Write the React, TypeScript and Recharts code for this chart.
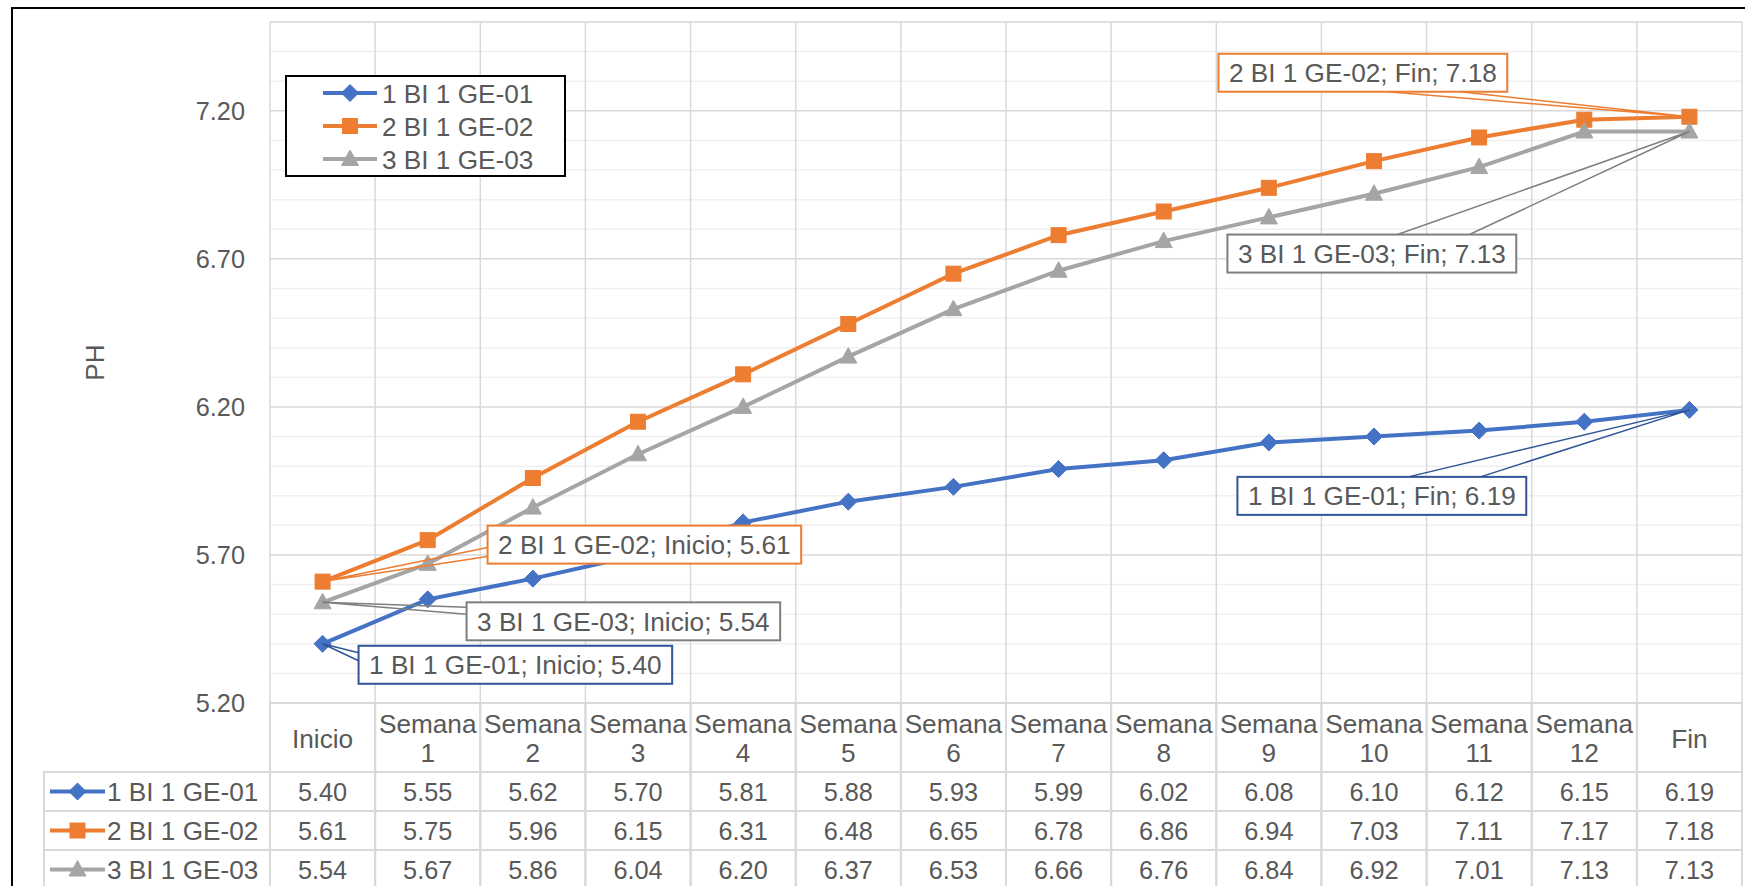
import React from 'react';
import { LineChart, Line, XAxis, YAxis, CartesianGrid, Legend, LabelList, Label } from 'recharts';

// ---------- data ----------
const CATEGORIES = ['Inicio', 'Semana 1', 'Semana 2', 'Semana 3', 'Semana 4', 'Semana 5', 'Semana 6', 'Semana 7', 'Semana 8', 'Semana 9', 'Semana 10', 'Semana 11', 'Semana 12', 'Fin'];
const SERIES_NAMES = ['1 BI 1 GE-01', '2 BI 1 GE-02', '3 BI 1 GE-03'];
const GE01 = [5.40, 5.55, 5.62, 5.70, 5.81, 5.88, 5.93, 5.99, 6.02, 6.08, 6.10, 6.12, 6.15, 6.19];
const GE02 = [5.61, 5.75, 5.96, 6.15, 6.31, 6.48, 6.65, 6.78, 6.86, 6.94, 7.03, 7.11, 7.17, 7.18];
const GE03 = [5.54, 5.67, 5.86, 6.04, 6.20, 6.37, 6.53, 6.66, 6.76, 6.84, 6.92, 7.01, 7.13, 7.13];
const Y_TICKS = [5.2, 5.7, 6.2, 6.7, 7.2];
const Y_MINOR = [5.3, 5.4, 5.5, 5.6, 5.8, 5.9, 6.0, 6.1, 6.3, 6.4, 6.5, 6.6, 6.8, 6.9, 7.0, 7.1, 7.3, 7.4, 7.5];
const Y_DOMAIN: [number, number] = [5.2, 7.5];
const Y_TITLE = 'PH';

const SERIES = [GE01, GE02, GE03];
const KEYS = ['s1', 's2', 's3'];
const data = CATEGORIES.map((cat, i) => ({ cat, s1: GE01[i], s2: GE02[i], s3: GE03[i] }));

// ---------- style / layout ----------
const FONT = '"Liberation Sans", Arial, sans-serif';
const TEXT = '#595959';
const GRID = '#D9D9D9';
const MINOR = '#EFEFEF';
const COLORS = ['#4472C4', '#ED7D31', '#A5A5A5'];
const LABEL_BORDER = ['#2F5597', '#ED7D31', '#7F7F7F'];
const MARKERS = ['diamond', 'square', 'triangle'];

const W = 1745;
const H = 889;
const MARGIN = { top: 22, right: 3, bottom: 0, left: 44 };
const Y_AXIS_W = 226;
const HEADER_H = 69;
const ROW_H = 39;
const PLOT_LEFT = MARGIN.left + Y_AXIS_W;
const PLOT_W = W - MARGIN.right - PLOT_LEFT;
const BAND = PLOT_W / CATEGORIES.length;
const FS_VAL = 25.3;
const FS_TXT = 26.2;
const BOX_H = 38;

// callout placement relative to the data point (box top-left offset, leader anchors relative to box)
const CALLOUTS: Record<number, Record<number, { dx: number; dy: number; anchors: [number, number][] }>> = {
  0: {
    0: { dx: 36, dy: 2, anchors: [[0, 7], [0, 15]] },
    13: { dx: -452, dy: 67, anchors: [[171, 0], [243, 0]] },
  },
  1: {
    0: { dx: 165, dy: -56, anchors: [[0, 22], [0, 31]] },
    13: { dx: -471, dy: -63, anchors: [[169, BOX_H], [242, BOX_H]] },
  },
  2: {
    0: { dx: 144, dy: 0, anchors: [[0, 5], [0, 12]] },
    13: { dx: -462, dy: 103, anchors: [[170, 0], [242, 0]] },
  },
};

let ctx: CanvasRenderingContext2D | null = null;
function measure(t: string, size: number) {
  if (!ctx) ctx = document.createElement('canvas').getContext('2d');
  if (!ctx) return t.length * size * 0.5;
  ctx.font = `${size}px "Liberation Sans", Arial, sans-serif`;
  return ctx.measureText(t).width;
}

function Marker({ kind, cx, cy, color }: { kind: string; cx: number; cy: number; color: string }) {
  if (kind === 'diamond') {
    const r = 8.5;
    return <polygon points={`${cx},${cy - r} ${cx + r},${cy} ${cx},${cy + r} ${cx - r},${cy}`} fill={color} stroke={color} strokeWidth={1} />;
  }
  if (kind === 'square') {
    const r = 7.5;
    return <rect x={cx - r} y={cy - r} width={2 * r} height={2 * r} fill={color} stroke={color} strokeWidth={1} />;
  }
  return <polygon points={`${cx},${cy - 9} ${cx + 8.5},${cy + 6.5} ${cx - 8.5},${cy + 6.5}`} fill={color} stroke={color} strokeWidth={1} />;
}

const makeDot = (s: number) => (props: any) => {
  const { cx, cy, index } = props;
  if (cx == null || cy == null) return <g key={`d-${s}-${index}`} />;
  return <Marker key={`d-${s}-${index}`} kind={MARKERS[s]} cx={cx} cy={cy} color={COLORS[s]} />;
};

const makeCallout = (s: number) => (props: any) => {
  const index = props.index;
  const cfg = CALLOUTS[s][index];
  if (!cfg) return null;
  const px = props.x ?? props.viewBox?.x;
  const py = props.y ?? props.viewBox?.y;
  if (px == null || py == null) return null;
  const text = `${SERIES_NAMES[s]}; ${CATEGORIES[index]}; ${SERIES[s][index].toFixed(2)}`;
  const w = measure(text, FS_TXT) + 21;
  const bx = px + cfg.dx;
  const by = py + cfg.dy;
  const a = cfg.anchors.map(([ax, ay]) => [bx + ax, by + ay]);
  const c = LABEL_BORDER[s];
  return (
    <g>
      <polyline points={`${a[0][0]},${a[0][1]} ${px},${py} ${a[1][0]},${a[1][1]}`} fill="none" stroke={c} strokeWidth={1.5} />
      <rect x={bx} y={by} width={w} height={BOX_H} fill="#fff" stroke={c} strokeWidth={2} />
      <text x={bx + 10.5} y={by + 28.5} fontSize={FS_TXT} fill={TEXT} fontFamily={FONT}>{text}</text>
    </g>
  );
};

const HeaderTick = (props: any) => {
  const { x, y, payload } = props;
  const parts = String(payload.value).split(' ');
  return (
    <g>
      <rect x={x - BAND / 2} y={y} width={BAND} height={HEADER_H} fill="none" stroke={GRID} strokeWidth={2} />
      {parts.length > 1 ? (
        <text textAnchor="middle" fontSize={FS_TXT} fill={TEXT} fontFamily={FONT}>
          <tspan x={x} y={y + 30}>{parts[0]}</tspan>
          <tspan x={x} y={y + 59}>{parts[1]}</tspan>
        </text>
      ) : (
        <text x={x} y={y + 45} textAnchor="middle" fontSize={FS_TXT} fill={TEXT} fontFamily={FONT}>{parts[0]}</text>
      )}
    </g>
  );
};

const makeRowTick = (row: number) => (props: any) => {
  const { x, y, index } = props;
  const values = SERIES[row];
  const left = x - BAND / 2;
  return (
    <g>
      <rect x={left} y={y} width={BAND} height={ROW_H} fill="none" stroke={GRID} strokeWidth={2} />
      <text x={x} y={y + 29} textAnchor="middle" fontSize={FS_VAL} fill={TEXT} fontFamily={FONT}>{values[index].toFixed(2)}</text>
      {index === 0 && (
        <g>
          <rect x={MARGIN.left} y={y} width={left - MARGIN.left} height={ROW_H} fill="none" stroke={GRID} strokeWidth={2} />
          <line x1={MARGIN.left + 6} x2={MARGIN.left + 61} y1={y + ROW_H / 2} y2={y + ROW_H / 2} stroke={COLORS[row]} strokeWidth={4} />
          <Marker kind={MARKERS[row]} cx={MARGIN.left + 33.5} cy={y + ROW_H / 2} color={COLORS[row]} />
          <text x={MARGIN.left + 63} y={y + 29} fontSize={FS_TXT} fill={TEXT} fontFamily={FONT}>{SERIES_NAMES[row]}</text>
        </g>
      )}
    </g>
  );
};

const LegendBox = () => (
  <svg width={281} height={102} style={{ display: 'block' }}>
    <rect x={1} y={1} width={279} height={100} fill="#fff" stroke="#000" strokeWidth={2} />
    {SERIES_NAMES.map((n, i) => {
      const cy = 18 + i * 33;
      return (
        <g key={n}>
          <line x1={38} x2={92} y1={cy} y2={cy} stroke={COLORS[i]} strokeWidth={4} />
          <Marker kind={MARKERS[i]} cx={65} cy={cy} color={COLORS[i]} />
          <text x={97} y={cy + 9.5} fontSize={FS_TXT} fill={TEXT} fontFamily={FONT}>{n}</text>
        </g>
      );
    })}
  </svg>
);

const PHLabel = (props: any) => {
  const vb = props.viewBox || { x: MARGIN.left, y: MARGIN.top, width: Y_AXIS_W, height: 681 };
  const cx = vb.x + 51;
  const cy = vb.y + vb.height / 2;
  return (
    <text x={cx} y={cy} transform={`rotate(-90, ${cx}, ${cy})`} textAnchor="middle" dominantBaseline="central" fontSize={FS_TXT} fill={TEXT} fontFamily={FONT}>
      {Y_TITLE}
    </text>
  );
};

const vGen = ({ offset }: any) => {
  const left = offset?.left ?? PLOT_LEFT;
  const width = offset?.width ?? PLOT_W;
  const n = CATEGORIES.length;
  const out: number[] = [];
  for (let i = 0; i <= n; i++) out.push(left + (i * width) / n);
  return out;
};

export default function App() {
  const pad = { left: BAND / 2, right: BAND / 2 };
  return (
    <div style={{ position: 'absolute', left: 0, top: 0, width: 1745, height: 886, overflow: 'hidden', background: '#fff' }}>
      <LineChart width={W} height={H} data={data} margin={MARGIN} style={{ fontFamily: FONT }}>
        <CartesianGrid horizontalValues={Y_MINOR} vertical={false} stroke={MINOR} strokeWidth={1.5} />
        <CartesianGrid stroke={GRID} strokeWidth={1.5} verticalCoordinatesGenerator={vGen} />
        <XAxis xAxisId={0} dataKey="cat" height={HEADER_H} padding={pad} interval={0} tickSize={0} tickMargin={0} tickLine={false} axisLine={false} tick={HeaderTick} />
        <XAxis xAxisId={1} dataKey="cat" height={ROW_H} padding={pad} interval={0} tickSize={0} tickMargin={0} tickLine={false} axisLine={false} tick={makeRowTick(0)} />
        <XAxis xAxisId={2} dataKey="cat" height={ROW_H} padding={pad} interval={0} tickSize={0} tickMargin={0} tickLine={false} axisLine={false} tick={makeRowTick(1)} />
        <XAxis xAxisId={3} dataKey="cat" height={ROW_H} padding={pad} interval={0} tickSize={0} tickMargin={0} tickLine={false} axisLine={false} tick={makeRowTick(2)} />
        <YAxis
          domain={Y_DOMAIN}
          ticks={Y_TICKS}
          allowDataOverflow
          interval={0}
          width={Y_AXIS_W}
          tickSize={0}
          tickMargin={25}
          axisLine={false}
          tickLine={false}
          tick={{ fill: TEXT, fontSize: FS_VAL, fontFamily: FONT }}
          tickFormatter={(v: number) => v.toFixed(2)}
        >
          <Label content={PHLabel} />
        </YAxis>
        <Legend layout="horizontal" verticalAlign="middle" align="center" wrapperStyle={{ left: 285, top: 75, width: 281, height: 102 }} content={LegendBox} />
        {KEYS.map((k, s) => (
          <Line key={k} xAxisId={0} dataKey={k} name={SERIES_NAMES[s]} stroke={COLORS[s]} strokeWidth={4} dot={makeDot(s)} activeDot={false} isAnimationActive={false} />
        ))}
        {KEYS.map((k, s) => (
          <Line key={`lbl-${k}`} xAxisId={s + 1} dataKey={k} stroke="none" dot={false} activeDot={false} legendType="none" isAnimationActive={false}>
            <LabelList dataKey={k} content={makeCallout(s)} />
          </Line>
        ))}
      </LineChart>
      <div style={{ position: 'absolute', left: 11, top: 7, width: 1800, height: 1000, border: '2px solid #000', pointerEvents: 'none' }} />
    </div>
  );
}
